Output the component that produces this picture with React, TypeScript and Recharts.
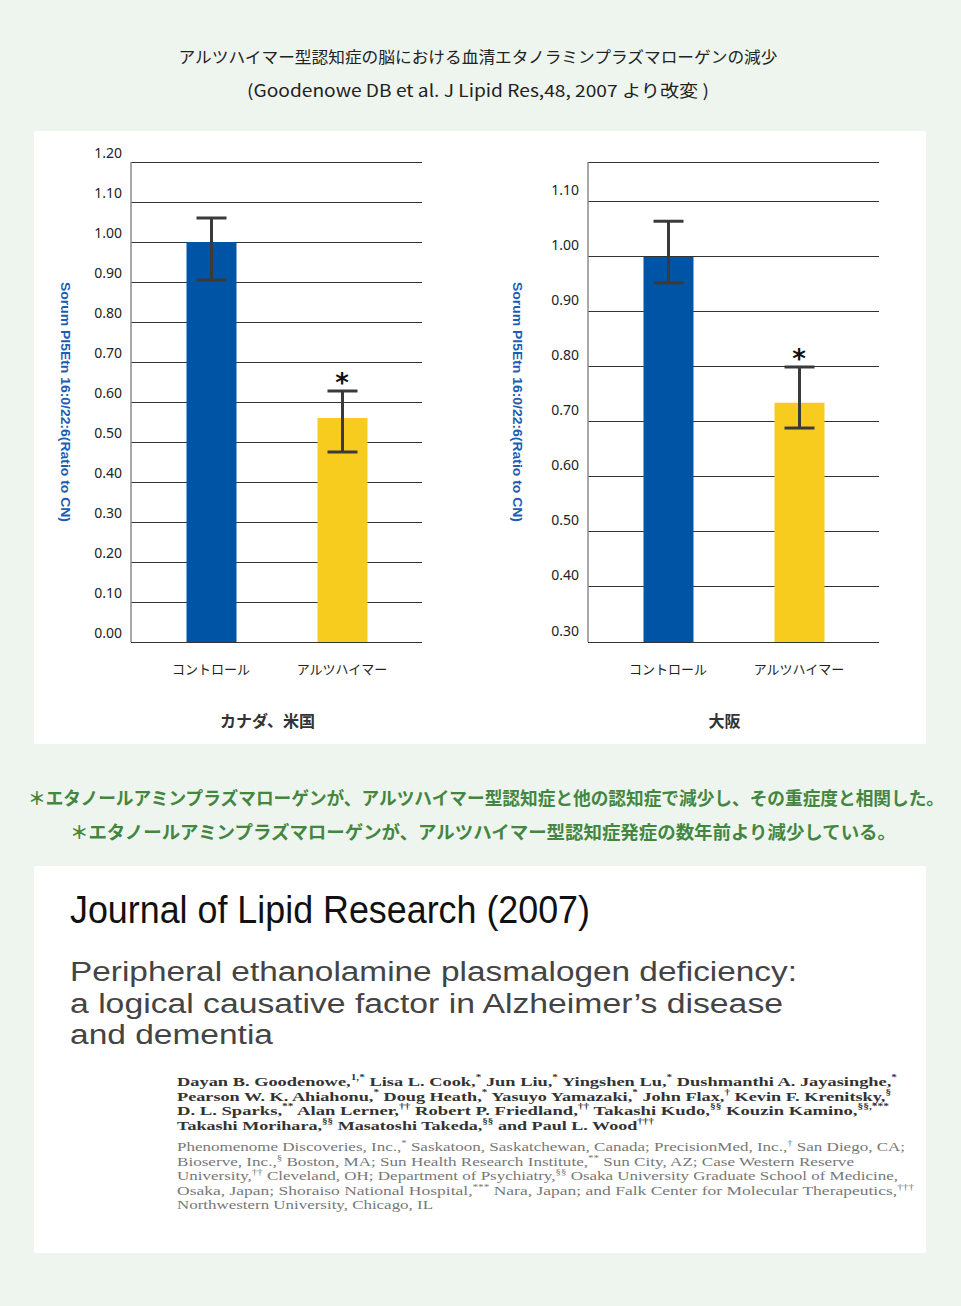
import React from 'react';
import {
  BarChart,
  Bar,
  XAxis,
  YAxis,
  CartesianGrid,
  ErrorBar,
  ReferenceDot,
  Cell,
} from 'recharts';

// categories shared by both panels
const groups = ['コントロール', 'アルツハイマー'];
const barColors = ['#0054a6', '#f8cc1e'];

// Canada / USA cohort
const canadaValues = [1.0, 0.56];
const canadaErrors: [number, number][] = [
  [0.095, 0.06],
  [0.085, 0.0675],
];
const canadaMarks = ['', '*'];
const canadaTicks = [0, 0.1, 0.2, 0.3, 0.4, 0.5, 0.6, 0.7, 0.8, 0.9, 1.0, 1.1, 1.2];
const canadaDomain: [number, number] = [0, 1.2];

// Osaka cohort
const osakaValues = [1.0, 0.735];
const osakaErrors: [number, number][] = [
  [0.047, 0.065],
  [0.046, 0.065],
];
const osakaMarks = ['', '*'];
const osakaTicks = [0.3, 0.4, 0.5, 0.6, 0.7, 0.8, 0.9, 1.0, 1.1];
const osakaDomain: [number, number] = [0.3, 1.1727];

const yTitle = 'Sorum Pl5Etn 16:0/22:6(Ratio to CN)';

const pageTitle = 'アルツハイマー型認知症の脳における血清エタノラミンプラズマローゲンの減少';
const pageSource = '(Goodenowe DB et al. J Lipid Res,48, 2007 より改変 )';
const findings = [
  '＊エタノールアミンプラズマローゲンが、アルツハイマー型認知症と他の認知症で減少し、その重症度と相関した。',
  '＊エタノールアミンプラズマローゲンが、アルツハイマー型認知症発症の数年前より減少している。',
];

const journal = 'Journal of Lipid Research (2007)';
const articleTitle = [
  'Peripheral ethanolamine plasmalogen deficiency:',
  'a logical causative factor in Alzheimer’s disease',
  'and dementia',
];
const authors = [
  'Dayan B. Goodenowe,^{1,*} Lisa L. Cook,^{*} Jun Liu,^{*} Yingshen Lu,^{*} Dushmanthi A. Jayasinghe,^{*}',
  'Pearson W. K. Ahiahonu,^{*} Doug Heath,^{*} Yasuyo Yamazaki,^{*} John Flax,^{†} Kevin F. Krenitsky,^{§}',
  'D. L. Sparks,^{**} Alan Lerner,^{††} Robert P. Friedland,^{††} Takashi Kudo,^{§§} Kouzin Kamino,^{§§,***}',
  'Takashi Morihara,^{§§} Masatoshi Takeda,^{§§} and Paul L. Wood^{†††}',
];
const affiliations = [
  'Phenomenome Discoveries, Inc.,^{*} Saskatoon, Saskatchewan, Canada; PrecisionMed, Inc.,^{†} San Diego, CA;',
  'Bioserve, Inc.,^{§} Boston, MA; Sun Health Research Institute,^{**} Sun City, AZ; Case Western Reserve',
  'University,^{††} Cleveland, OH; Department of Psychiatry,^{§§} Osaka University Graduate School of Medicine,',
  'Osaka, Japan; Shoraiso National Hospital,^{***} Nara, Japan; and  Falk Center for Molecular Therapeutics,^{†††}',
  'Northwestern University, Chicago, IL',
];
const authorWidths = [720, 714, 712, 477];
const affiliationWidths = [728, 677, 721, 737, 256];

const CJK = '"Noto Sans CJK JP", "Noto Sans", sans-serif';
const NUM = '"Noto Sans", "Open Sans", sans-serif';

function withSup(line: string, supSize: number) {
  const parts = line.split(/\^\{([^}]*)\}/);
  return parts.map((p, i) =>
    i % 2 === 1 ? (
      <tspan key={i} baselineShift="40%" fontSize={supSize}>
        {p}
      </tspan>
    ) : (
      <tspan key={i}>{p}</tspan>
    ),
  );
}

const YTick = ({ x, y, payload, shift }: any) => (
  <text
    x={x}
    y={y + shift}
    textAnchor="end"
    dominantBaseline="central"
    fontSize={14}
    fontFamily={NUM}
    fill="#222"
  >
    {Number(payload.value).toFixed(2)}
  </text>
);

const XTick = ({ x, y, payload }: any) => (
  <text
    x={x}
    y={y + 26}
    textAnchor="middle"
    dominantBaseline="central"
    fontSize={13}
    fontFamily={CJK}
    fill="#222"
  >
    {payload.value}
  </text>
);

interface PanelProps {
  values: number[];
  errors: [number, number][];
  marks: string[];
  ticks: number[];
  domain: [number, number];
  region: string;
  tickShift: number;
  titleShift: number;
  left: number;
}

function CohortChart({ values, errors, marks, ticks, domain, region, tickShift, titleShift, left }: PanelProps) {
  const rows = groups.map((g, i) => ({
    group: g,
    value: values[i],
    err: errors[i],
    mark: marks[i],
    top: values[i] + errors[i][1],
  }));

  return (
    <div style={{ position: 'absolute', left, top: 140 }}>
      <BarChart
        width={400}
        height={600}
        data={rows}
        margin={{ top: 22, right: 18, bottom: 8, left: 31 }}
      >
        <CartesianGrid vertical={false} stroke="#333" strokeWidth={1} shapeRendering="crispEdges" />
        <XAxis
          dataKey="group"
          padding={{ left: 14.5, right: 14.5 }}
          height={90}
          tickSize={0}
          tickMargin={0}
          tickLine={false}
          axisLine={{ stroke: '#333', shapeRendering: 'crispEdges' }}
          tick={<XTick />}
          label={({ viewBox }: any) => (
            <text
              x={viewBox.x + viewBox.width / 2 - 9}
              y={viewBox.y + 78}
              textAnchor="middle"
              dominantBaseline="central"
              fontSize={16}
              fontWeight="bold"
              fontFamily={CJK}
              fill="#333"
            >
              {region}
            </text>
          )}
        />
        <XAxis
          xAxisId="top"
          orientation="top"
          dataKey="group"
          height={0}
          tick={false}
          tickLine={false}
          axisLine={{ stroke: '#333', shapeRendering: 'crispEdges' }}
        />
        <YAxis
          domain={domain}
          ticks={ticks}
          allowDataOverflow
          width={60}
          tickSize={0}
          tickMargin={9}
          tickLine={false}
          axisLine={{ stroke: '#8c8c8c', strokeWidth: 1.5 }}
          tick={<YTick shift={tickShift} />}
          label={({ viewBox }: any) => {
            const cx = viewBox.x + titleShift;
            const cy = viewBox.y + viewBox.height / 2;
            return (
              <text
                x={cx}
                y={cy}
                transform={`rotate(90, ${cx}, ${cy})`}
                textAnchor="middle"
                dominantBaseline="central"
                fontSize={12}
                fontWeight="bold"
                fontFamily='"Liberation Sans", Arial, sans-serif'
                fill="#1a5db4"
                textLength={240}
                lengthAdjust="spacingAndGlyphs"
              >
                {yTitle}
              </text>
            );
          }}
        />
        <YAxis
          yAxisId="right"
          orientation="right"
          domain={domain}
          width={0}
          tick={false}
          tickLine={false}
          axisLine={{ stroke: '#555', shapeRendering: 'crispEdges' }}
        />
        <Bar dataKey="value" barSize={50} isAnimationActive={false}>
          {rows.map((r, i) => (
            <Cell key={r.group} fill={barColors[i]} />
          ))}
          <ErrorBar
            dataKey="err"
            direction="y"
            width={15}
            strokeWidth={3}
            stroke="#3a3a3a"
            isAnimationActive={false}
          />
        </Bar>
        {rows
          .filter((r) => r.mark)
          .map((r) => (
            <ReferenceDot
              key={r.group}
              x={r.group}
              y={r.top}
              r={0}
              fill="none"
              stroke="none"
              label={({ viewBox }: any) => (
                <text
                  x={viewBox.x}
                  y={viewBox.y - 8}
                  textAnchor="middle"
                  dominantBaseline="central"
                  fontSize={26}
                  fontWeight="bold"
                  fontFamily='"DejaVu Sans", sans-serif'
                  fill="#111"
                >
                  {r.mark}
                </text>
              )}
            />
          ))}
      </BarChart>
    </div>
  );
}

export default function App() {
  return (
    <div
      style={{
        position: 'absolute',
        left: 0,
        top: 0,
        width: 961,
        height: 1306,
        background: '#eef5ee',
        overflow: 'hidden',
      }}
    >
      <div style={{ position: 'absolute', left: 34, top: 131, width: 892, height: 613, background: '#fff' }} />
      <div style={{ position: 'absolute', left: 34, top: 866, width: 892, height: 387, background: '#fff' }} />

      <svg width={961} height={1306} style={{ position: 'absolute', left: 0, top: 0 }}>
        <text x={478} y={56} textAnchor="middle" dominantBaseline="central" fontSize={16} fontFamily={CJK} fill="#222" textLength={599} lengthAdjust="spacingAndGlyphs">
          {pageTitle}
        </text>
        <text x={478} y={89} textAnchor="middle" dominantBaseline="central" fontSize={17} fontFamily={CJK} fill="#222" textLength={462} lengthAdjust="spacingAndGlyphs">
          {pageSource}
        </text>
        <text x={486} y={797} textAnchor="middle" dominantBaseline="central" fontSize={18} fontWeight="bold" fontFamily={CJK} fill="#43863f" textLength={916} lengthAdjust="spacingAndGlyphs">
          {findings[0]}
        </text>
        <text x={483} y={831} textAnchor="middle" dominantBaseline="central" fontSize={18} fontWeight="bold" fontFamily={CJK} fill="#43863f" textLength={826} lengthAdjust="spacingAndGlyphs">
          {findings[1]}
        </text>

        <text x={70} y={910} dominantBaseline="central" fontSize={38} fontFamily='"Liberation Sans", Arial, sans-serif' fill="#111" textLength={520} lengthAdjust="spacingAndGlyphs">
          {journal}
        </text>
        {articleTitle.map((line, i) => (
          <text
            key={line}
            x={70}
            y={972 + i * 31.5}
            dominantBaseline="central"
            fontSize={27}
            fontFamily='"Liberation Sans", Arial, sans-serif'
            fill="#444"
            textLength={[727, 713, 203][i]}
            lengthAdjust="spacingAndGlyphs"
          >
            {line}
          </text>
        ))}
        {authors.map((line, i) => (
          <text
            key={line}
            x={177}
            y={1081 + i * 14.6}
            dominantBaseline="central"
            fontSize={13}
            fontWeight="bold"
            fontFamily='"Liberation Serif", "Times New Roman", serif'
            fill="#333"
            textLength={authorWidths[i]}
            lengthAdjust="spacingAndGlyphs"
          >
            {withSup(line, 8)}
          </text>
        ))}
        {affiliations.map((line, i) => (
          <text
            key={line}
            x={177}
            y={1147 + i * 14.5}
            dominantBaseline="central"
            fontSize={12.5}
            fontFamily='"Liberation Serif", "Times New Roman", serif'
            fill="#777"
            textLength={affiliationWidths[i]}
            lengthAdjust="spacingAndGlyphs"
          >
            {withSup(line, 8)}
          </text>
        ))}
      </svg>

      <CohortChart
        values={canadaValues}
        errors={canadaErrors}
        marks={canadaMarks}
        ticks={canadaTicks}
        domain={canadaDomain}
        region="カナダ、米国"
        tickShift={-10}
        titleShift={-6}
        left={40}
      />
      <CohortChart
        values={osakaValues}
        errors={osakaErrors}
        marks={osakaMarks}
        ticks={osakaTicks}
        domain={osakaDomain}
        region="大阪"
        tickShift={-12}
        titleShift={-11}
        left={497}
      />
    </div>
  );
}
